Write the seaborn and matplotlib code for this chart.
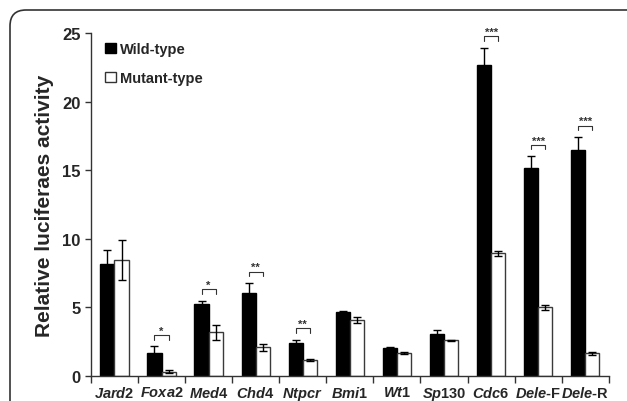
import numpy as np
import pandas as pd
import matplotlib
matplotlib.use("Agg")
import matplotlib.pyplot as plt
import seaborn as sns
from matplotlib.patches import FancyBboxPatch, Patch
from matplotlib.transforms import IdentityTransform

genes = ["Jard2", "Foxa2", "Med4", "Chd4", "Ntpcr", "Bmi1", "Wt1",
         "Sp130", "Cdc6", "Dele-F", "Dele-R"]
wild = [8.15, 1.65, 5.2, 6.04, 2.39, 4.62, 2.04, 3.06, 22.68, 15.14, 16.45]
wild_err = [1.0, 0.5, 0.25, 0.7, 0.2, 0.08, 0.03, 0.3, 1.22, 0.88, 0.95]
mutant = [8.45, 0.3, 3.17, 2.07, 1.12, 4.06, 1.63, 2.58, 8.93, 4.99, 1.63]
mutant_err = [1.45, 0.08, 0.55, 0.25, 0.07, 0.2, 0.07, 0.05, 0.2, 0.17, 0.1]

sig_genes = ["Foxa2", "Med4", "Chd4", "Ntpcr", "Cdc6", "Dele-F", "Dele-R"]
sig_marks = ["*", "*", "**", "**", "***", "***", "***"]
sig_heights = [2.97, 6.3, 7.6, 3.46, 24.77, 16.86, 18.25]

sns.set_style("ticks")
plt.rcParams["font.family"] = ["Liberation Sans", "DejaVu Sans"]
plt.rcParams["font.weight"] = "bold"
plt.rcParams["mathtext.fontset"] = "custom"
plt.rcParams["mathtext.it"] = "Liberation Sans:bold:italic"
plt.rcParams["mathtext.rm"] = "Liberation Sans:bold"
plt.rcParams["mathtext.bf"] = "Liberation Sans:bold"

df = pd.DataFrame({
    "gene": genes * 2,
    "value": wild + mutant,
    "type": ["Wild-type"] * len(genes) + ["Mutant-type"] * len(genes),
})

fig = plt.figure(figsize=(6.27, 4.02), dpi=100)
ax = fig.add_axes([0.145, 0.063, 0.826, 0.852])

sns.barplot(data=df, x="gene", y="value", hue="type", order=genes,
            hue_order=["Wild-type", "Mutant-type"],
            palette=["black", "white"], width=0.6, gap=0, errorbar=None,
            legend=False, ax=ax)

# bar edges + error bars
for cont, errs, ec in zip(ax.containers, [wild_err, mutant_err],
                          ["black", "#3a3a3a"]):
    xs, ys = [], []
    for bar in cont:
        bar.set_edgecolor(ec)
        bar.set_linewidth(1.0)
        xs.append(bar.get_x() + bar.get_width() / 2)
        ys.append(bar.get_height())
    ax.errorbar(xs, ys, yerr=errs, fmt="none", ecolor="black",
                elinewidth=1.0, capsize=3, capthick=1.0, zorder=5)

# significance brackets
wx = [b.get_x() + b.get_width() / 2 for b in ax.containers[0]]
mx = [b.get_x() + b.get_width() / 2 for b in ax.containers[1]]
for g, mark, h in zip(sig_genes, sig_marks, sig_heights):
    i = genes.index(g)
    ax.plot([wx[i], wx[i], mx[i], mx[i]], [h - 0.35, h, h, h - 0.35],
            color="#333333", lw=0.8)
    ax.text((wx[i] + mx[i]) / 2, h - 0.05, mark, ha="center", va="bottom",
            fontsize=8, color="#333333")

ax.set_ylim(0, 25)
ax.set_xlim(-0.5, len(genes) - 0.5)
ax.set_yticks([0, 5, 10, 15, 20, 25])
ax.tick_params(axis="y", labelsize=12, length=4, width=1, color="#333333")
for t in ax.get_yticklabels():
    t.set_fontweight("bold")

labels = []
for g in genes:
    if "-" in g:
        a, b = g.split("-")
        labels.append(r"$\mathit{%s}$-%s" % (a, b))
    else:
        labels.append(r"$\mathit{%s}$" % g)
ax.set_xticks(range(len(genes)))
ax.set_xticklabels(labels, fontsize=10.5, fontweight="bold")
ax.set_xticks(np.arange(-0.5, len(genes), 1), minor=True)
ax.tick_params(axis="x", which="major", length=0, pad=7)
ax.tick_params(axis="x", which="minor", length=5, width=1, color="#333333")

ax.set_xlabel("")
ax.set_ylabel("Relative luciferaes activity", fontsize=15, fontweight="bold",
              labelpad=6)
sns.despine(ax=ax)
for s in ["left", "bottom"]:
    ax.spines[s].set_color("#333333")
    ax.spines[s].set_linewidth(1.0)

handles = [Patch(facecolor="black", edgecolor="black", label="Wild-type"),
           Patch(facecolor="white", edgecolor="#333333", label="Mutant-type")]
ax.legend(handles=handles, loc="upper left", bbox_to_anchor=(0.028, 0.975),
          borderaxespad=0, borderpad=0, frameon=False,
          handlelength=0.7, handleheight=0.7,
          handletextpad=0.3, labelspacing=1.05,
          prop={"weight": "bold", "size": 10.5})

# rounded frame around the panel
frame = FancyBboxPatch((10, -30), 660, 421, boxstyle="round,pad=0,rounding_size=16",
                       transform=IdentityTransform(), facecolor="none",
                       edgecolor="#333333", lw=1.2, clip_on=False)
fig.add_artist(frame)

fig.savefig("out.png", dpi=100)
